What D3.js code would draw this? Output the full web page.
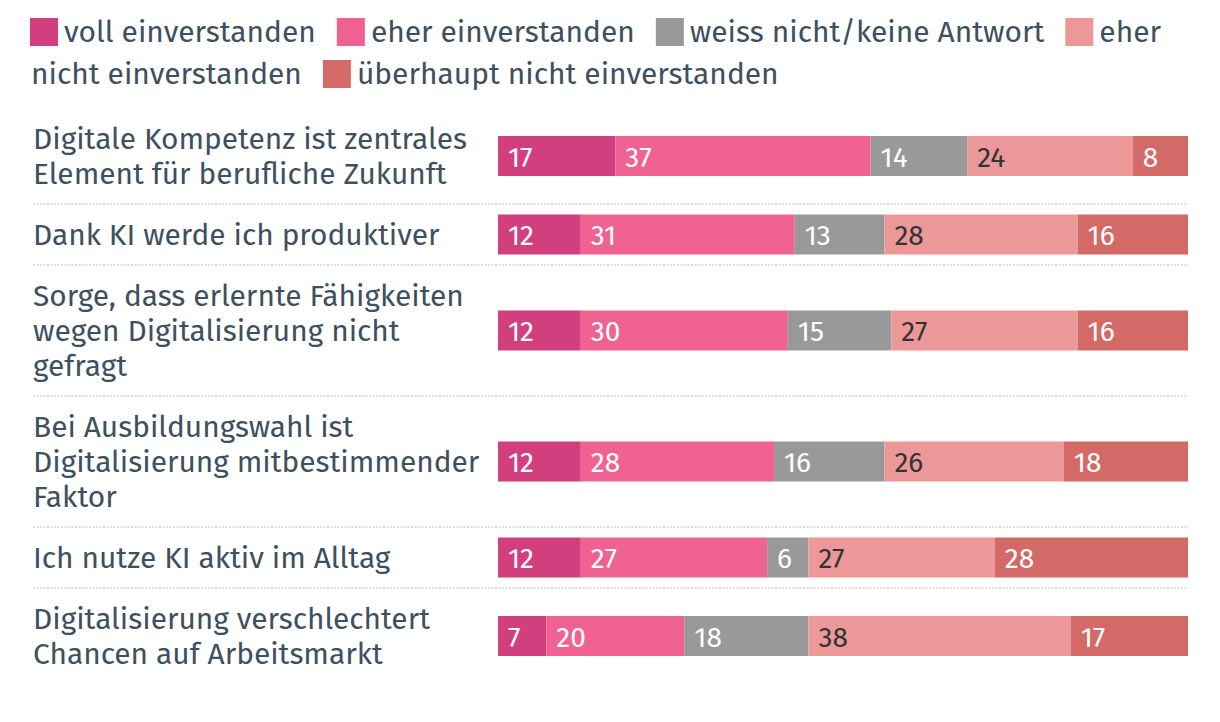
<!DOCTYPE html>
<html><head><meta charset="utf-8">
<script src="https://cdn.jsdelivr.net/npm/d3@7"></script>
<style>body{margin:0;background:#fff;overflow:hidden}</style>
</head><body><svg id="c" width="1220" height="722"></svg>
<script>
const categories = [
  "Digitale Kompetenz ist zentrales\nElement für berufliche Zukunft",
  "Dank KI werde ich produktiver",
  "Sorge, dass erlernte Fähigkeiten\nwegen Digitalisierung nicht\ngefragt",
  "Bei Ausbildungswahl ist\nDigitalisierung mitbestimmender\nFaktor",
  "Ich nutze KI aktiv im Alltag",
  "Digitalisierung verschlechtert\nChancen auf Arbeitsmarkt"
];
const seriesNames = ["voll einverstanden","eher einverstanden","weiss nicht/keine Antwort","eher nicht einverstanden","überhaupt nicht einverstanden"];
const vollEinverstanden = [17,12,12,12,12,7];
const eherEinverstanden = [37,31,30,28,27,20];
const weissNicht = [14,13,15,16,6,18];
const eherNichtEinverstanden = [24,28,27,26,27,38];
const ueberhauptNicht = [8,16,16,18,28,17];
const colors = ["#d13f7f","#f06292","#999999","#ed9898","#d36a68"];
const labelColors = ["#ffffff","#ffffff","#ffffff","#333333","#ffffff"];

const seriesValues = [vollEinverstanden, eherEinverstanden, weissNicht, eherNichtEinverstanden, ueberhauptNicht];
const FONT = "'Fira Sans','Open Sans','Noto Sans',sans-serif";
const TEXT = "#3e5060";
const svg = d3.select("#c");

function fitSize(str, target, base){
  const t = svg.append("text").attr("font-family",FONT).attr("font-size",base).text(str);
  const w = t.node().getComputedTextLength(); t.remove();
  return base*target/w;
}
const labelSize = fitSize("Digitale Kompetenz ist zentrales", 434, 26);
const legendSize = fitSize("voll einverstanden", 252, 26);
const valueSize = 28;

// legend (flow layout)
const legend = svg.append("g");
function measure(str, size){
  const t = svg.append("text").attr("font-family",FONT).attr("font-size",size).text(str);
  const w = t.node().getComputedTextLength(); t.remove(); return w;
}
const spaceW = measure("a b",legendSize)-measure("ab",legendSize);
let lx = 30, line = 0; const lineH = 42, maxX = 1195, legTop = 32;
seriesNames.forEach((name,i)=>{
  const words = name.split(" ");
  const firstW = measure(words[0],legendSize);
  if (lx + 34 + firstW > maxX){ line++; lx = 31; }
  legend.append("rect").attr("x",lx).attr("y",legTop + line*lineH - 14).attr("width",28).attr("height",28).attr("fill",colors[i]);
  lx += 34;
  words.forEach((w,j)=>{
    const ww = measure(w,legendSize);
    if (j>0){
      if (lx + spaceW + ww > maxX){ line++; lx = 31; } else lx += spaceW;
    }
    legend.append("text").attr("x",lx).attr("y",legTop + line*lineH).attr("dominant-baseline","central")
      .attr("font-family",FONT).attr("font-size",legendSize).attr("fill",TEXT).text(w);
    lx += ww;
  });
  lx += 21;
});

// rows
const lineHeight = 35, pad = 26, top0 = 108;
const rows = categories.map(c=>c.split("\n"));
let acc = top0;
const rowPos = rows.map(r=>{ const h = r.length*lineHeight+pad; const o = {y0:acc, h}; acc += h; return o; });

const x = d3.scaleLinear().domain([0,100]).range([498,1188]);
const barH = 40;

const g = svg.append("g");
rows.forEach((lines,ri)=>{
  const {y0,h} = rowPos[ri];
  const cy = y0 + h/2;
  lines.forEach((ln,li)=>{
    g.append("text").attr("x",33).attr("y",cy + (li-(lines.length-1)/2)*lineHeight)
      .attr("dominant-baseline","central").attr("font-family",FONT).attr("font-size",labelSize)
      .attr("fill",TEXT).text(ln);
  });
  let cum = 0;
  seriesValues.forEach((vals,si)=>{
    const v = vals[ri];
    g.append("rect").attr("x",x(cum)).attr("y",cy-barH/2).attr("width",x(cum+v)-x(cum)).attr("height",barH).attr("fill",colors[si]);
    g.append("text").attr("x",x(cum)+10).attr("y",cy+1).attr("dominant-baseline","central")
      .attr("font-family",FONT).attr("font-size",valueSize).attr("fill",labelColors[si]).text(v);
    cum += v;
  });
  if (ri < rows.length-1){
    g.append("line").attr("x1",33).attr("x2",1188).attr("y1",y0+h).attr("y2",y0+h)
      .attr("stroke","#dcdcdc").attr("stroke-width",2).attr("stroke-dasharray","2 1.5");
  }
});
</script></body></html>
